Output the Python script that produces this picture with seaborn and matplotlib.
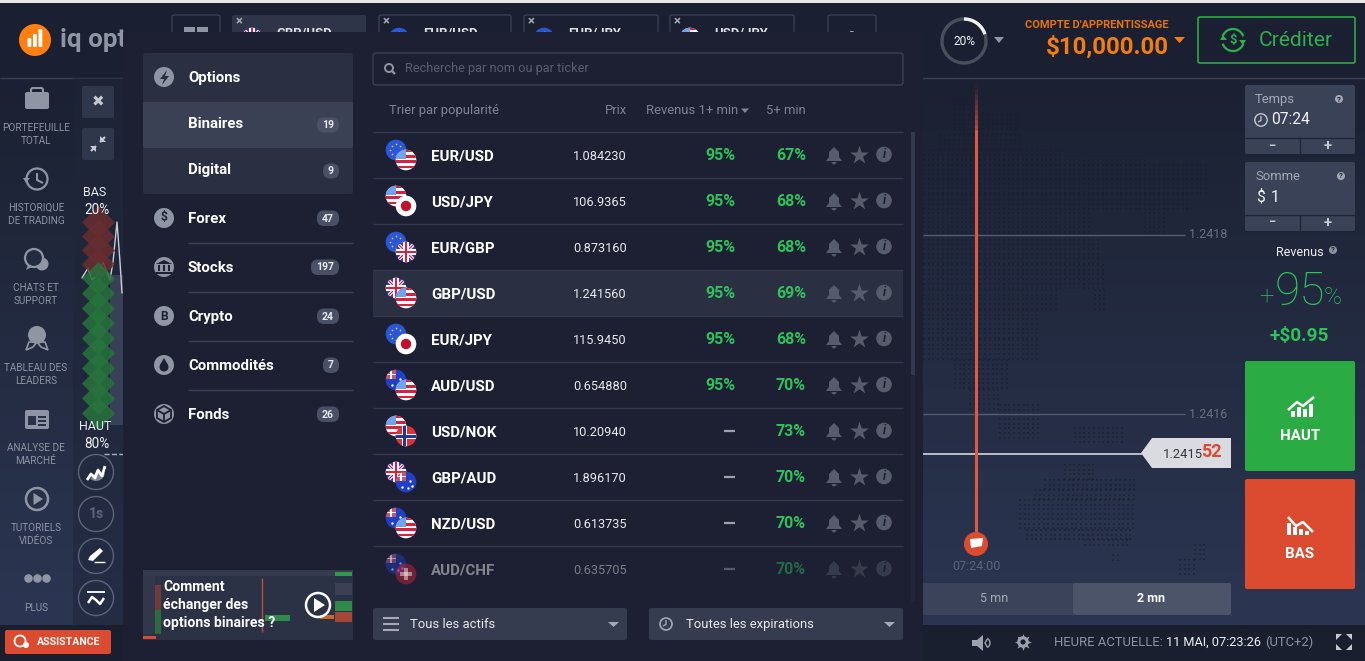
import numpy as np
import pandas as pd
import seaborn as sns
import matplotlib.pyplot as plt
from matplotlib.patches import Circle, FancyBboxPatch, Polygon, Rectangle, Wedge

# asset rows of the table
pairs = ['EUR/USD', 'USD/JPY', 'EUR/GBP', 'GBP/USD', 'EUR/JPY', 'AUD/USD', 'USD/NOK', 'GBP/AUD', 'NZD/USD', 'AUD/CHF']
prices = ['1.084230', '106.9365', '0.873160', '1.241560', '115.9450', '0.654880', '10.20940', '1.896170', '0.613735', '0.635705']
revenue_1min = ['95%', '95%', '95%', '95%', '95%', '95%', '—', '—', '—', '—']
revenue_5min = ['67%', '68%', '68%', '69%', '68%', '70%', '73%', '70%', '70%', '70%']

# left menu
menu_names = ['Forex', 'Stocks', 'Crypto', 'Commodités', 'Fonds']
menu_counts = ['47', '197', '24', '7', '26']
option_names = ['Binaires', 'Digital']
option_counts = ['19', '9']
side_labels = [['PORTEFEUILLE', 'TOTAL'], ['HISTORIQUE', 'DE TRADING'], ['CHATS ET', 'SUPPORT'],
               ['TABLEAU DES', 'LEADERS'], ['ANALYSE DE', 'MARCHÉ'], ['TUTORIELS', 'VIDÉOS'], ['PLUS']]
tab_names = ['GBP/USD', 'EUR/USD', 'EUR/JPY', 'USD/JPY']
tab_flags = ['GBP', 'EUR', 'EUR', 'USD']

# sentiment strip and small price line
down_share = [222, 236, 250, 264]
up_share = [278, 293, 308, 323, 338, 353, 368, 383, 398, 413]
spark_x = [82, 88, 92, 98, 103, 106, 110, 113, 117, 120, 122]
spark_y = [278, 268, 280, 274, 262, 270, 280, 262, 222, 262, 293]

# dotted world map, rough blocks: y0, y1, x0, x1
map_blocks = [(100, 112, 955, 970), (115, 135, 955, 1020), (135, 150, 940, 1020), (150, 160, 924, 1065),
              (160, 165, 924, 1145), (165, 195, 924, 1210), (195, 213, 924, 1190), (213, 235, 924, 1090),
              (213, 235, 1145, 1165), (235, 265, 924, 1100), (265, 290, 924, 1105), (290, 310, 924, 1060),
              (290, 310, 1095, 1105), (310, 340, 924, 1040), (340, 360, 924, 1037), (360, 390, 955, 1007),
              (390, 410, 970, 1000), (405, 440, 1000, 1040), (428, 446, 1075, 1125), (465, 480, 1065, 1095),
              (480, 490, 1045, 1135), (490, 500, 1035, 1135), (500, 530, 1020, 1135), (530, 540, 1027, 1135),
              (540, 548, 1085, 1130), (555, 562, 1113, 1120), (545, 560, 1195, 1208), (560, 575, 1180, 1195)]

sns.set_theme(style='white')
plt.rcParams['font.family'] = ['Roboto', 'DejaVu Sans']

fig = plt.figure(figsize=(13.65, 6.61), dpi=100)
ax = fig.add_axes([0, 0, 1, 1])
ax.axis('off')


def box(x, y, w, h, color, z=1, r=2, alpha=1, edge='none', lw=0):
    ax.add_patch(FancyBboxPatch((x + r, y + r), w - 2 * r, h - 2 * r, boxstyle='round,pad=%s' % r, fc=color,
                                ec=edge, lw=lw, alpha=alpha, zorder=z))


def rect(x, y, w, h, color, z=1, alpha=1):
    ax.add_patch(Rectangle((x, y), w, h, fc=color, ec='none', alpha=alpha, zorder=z))


def txt(x, y, s, px=12, color='white', ha='left', weight='normal', z=10, alpha=1, style='normal'):
    ax.text(x, y + 2, s, fontsize=px * 0.72, color=color, ha=ha, va='center', fontweight=weight, zorder=z,
            alpha=alpha, fontstyle=style)


def line(xs, ys, color, lw=1, z=2, alpha=1, ls='-'):
    ax.plot(xs, ys, color=color, lw=lw, zorder=z, alpha=alpha, ls=ls, solid_capstyle='butt')


def tri(points, color, z=3, alpha=1):
    ax.add_patch(Polygon(points, fc=color, ec='none', zorder=z, alpha=alpha))


def flag(cx, cy, kind, z, alpha=1):
    clip = Circle((cx, cy), 10.3, transform=ax.transData)

    def add(x, y, w, h, c):
        p = Rectangle((cx + x, cy + y), w, h, fc=c, ec='none', zorder=z, alpha=alpha)
        ax.add_patch(p)
        p.set_clip_path(clip)

    def diag(c, lw):
        for sign in (1, -1):
            d, = ax.plot([cx - 11, cx + 11], [cy - 11 * sign, cy + 11 * sign], color=c, lw=lw, zorder=z, alpha=alpha)
            d.set_clip_path(clip)

    if kind == 'EUR':
        add(-11, -11, 22, 22, '#2a56d8')
        ax.scatter(cx + 6 * np.cos(np.arange(8) * np.pi / 4), cy + 6 * np.sin(np.arange(8) * np.pi / 4),
                   s=1.5, color='#e8c84a', zorder=z, alpha=alpha, linewidths=0)
    elif kind == 'USD':
        add(-11, -11, 22, 22, 'white')
        for k in range(4):
            add(-11, -10.5 + k * 5.4, 22, 2.7, '#d8213f')
        add(-11, -11, 11, 10, '#6ea4ee')
    elif kind == 'JPY':
        add(-11, -11, 22, 22, 'white')
        ax.add_patch(Circle((cx, cy), 5.2, fc='#c2102c', ec='none', zorder=z, alpha=alpha))
    elif kind == 'GBP':
        add(-11, -11, 22, 22, '#2b3fb0')
        diag('white', 2.4)
        diag('#d8213f', 0.9)
        add(-11, -2.6, 22, 5.2, 'white')
        add(-2.6, -11, 5.2, 22, 'white')
        add(-11, -1.3, 22, 2.6, '#d8213f')
        add(-1.3, -11, 2.6, 22, '#d8213f')
    elif kind == 'AUD' or kind == 'NZD':
        add(-11, -11, 22, 22, '#2040c8')
        add(-11, -11, 11, 10, '#c9566b')
        add(-11, -6.5, 11, 1.6, 'white')
        add(-6, -11, 1.6, 10, 'white')
        ax.scatter([cx + 4, cx + 6, cx + 2, cx - 4], [cy - 1, cy + 4, cy + 6, cy + 5], s=3, color='white',
                   zorder=z, alpha=alpha, linewidths=0)
    elif kind == 'NOK':
        add(-11, -11, 22, 22, '#e0323c')
        add(-4, -11, 5, 22, 'white')
        add(-11, -2.5, 22, 5, 'white')
        add(-3, -11, 3, 22, '#1f3a8c')
        add(-11, -1.5, 22, 3, '#1f3a8c')
    elif kind == 'CHF':
        add(-11, -11, 22, 22, '#d8213f')
        add(-6, -1.8, 12, 3.6, 'white')
        add(-1.8, -6, 3.6, 12, 'white')


# background gradient
grad = np.linspace(0, 1, 300)[:, None, None]
top = np.array([0x1b, 0x21, 0x32]) / 255
bot = np.array([0x2c, 0x36, 0x52]) / 255
ax.imshow(top + (bot - top) * grad, extent=[0, 1365, 625, 78], aspect='auto', zorder=0)

# header and footer
rect(0, 0, 1365, 3, '#e8e8e8', 0.5)
rect(0, 3, 1365, 75, '#1a2031', 0.5)
line([0, 1365], [77.5, 77.5], '#3a4152', 1, 1)
rect(0, 625, 1365, 36, '#191f2e', 0.5)
line([440, 490], [660, 660], '#555b69', 1, 1)

# logo
ax.add_patch(Circle((35, 40), 16, fc='#ff7f11', ec='none', zorder=2))
for bx, bh in zip([27.5, 33, 38.5], [9, 13, 18]):
    box(bx, 47 - bh, 3.8, bh, 'white', 3, r=1)
txt(60, 38, 'iq opt', 26, '#8f95a3', weight='bold', z=2)

# tabs behind the panel
box(172, 15, 48, 34, '#1a2031', 1, edge='#3a4152', lw=1)
rect(184, 27, 11, 8, '#8f95a3', 2)
rect(197, 27, 11, 8, '#8f95a3', 2)
for k, (tx, tw) in enumerate(zip([232, 379, 524, 670], [134, 132, 134, 124])):
    if k == 0:
        box(tx, 15, tw, 34, '#2e3548', 1)
    else:
        box(tx, 15, tw, 34, '#1a2031', 1, edge='#3a4152', lw=1)
    txt(tx + 7, 20, '×', 13, '#a8adb8', ha='center', weight='bold', z=2)
    flag(tx + 20, 38, tab_flags[k], 2)
    txt(tx + 44, 31, tab_names[k], 13, '#dfe1e6', weight='bold', z=2)
box(828, 15, 48, 34, '#1a2031', 1, edge='#3a4152', lw=1)
txt(852, 31, '-', 14, '#a8adb8', ha='center', z=2)

# left sidebar
rect(73, 78, 50, 547, '#1f2639', 1, alpha=0.55)
for k, label in enumerate(side_labels):
    base = [126, 206, 286, 366, 446, 526, 606][k]
    for j, part in enumerate(label):
        txt(36, base + j * 13, part, 10, '#8d93a2', ha='center')

grey = '#8f95a3'
side_bg = '#232b41'
# briefcase
box(25, 92, 24, 17, grey, 3, r=2)
box(31, 88, 12, 8, 'none', 3, r=2, edge=grey, lw=1.5)
# clock
ax.add_patch(Circle((37, 179), 10.5, fc='none', ec=grey, lw=1.6, zorder=3))
line([37, 37, 43], [173, 180, 183], grey, 1.5, 3)
tri([[23, 178], [30, 178], [26, 183]], grey)
# chat
ax.add_patch(Circle((42, 264), 6.5, fc=grey, ec='none', zorder=2))
ax.add_patch(Circle((34, 258), 9, fc=side_bg, ec=grey, lw=1.6, zorder=3))
tri([[28, 265], [32, 267], [26, 270]], grey, 4)
# medal
ax.add_patch(Circle((37, 335), 9, fc=grey, ec='none', zorder=3))
ax.add_patch(Polygon([[29, 342], [26, 350], [33, 347], [37, 342]], fc='none', ec=grey, lw=1.2, zorder=3))
ax.add_patch(Polygon([[45, 342], [48, 350], [41, 347], [37, 342]], fc='none', ec=grey, lw=1.2, zorder=3))
# newspaper
box(25, 410, 24, 19, grey, 3, r=2)
rect(28, 416, 8, 9, '#2a3249', 4)
rect(38, 416, 8, 2, '#2a3249', 4)
rect(38, 420, 8, 2, '#2a3249', 4)
rect(38, 424, 8, 2, '#2a3249', 4)
# play
ax.add_patch(Circle((37, 499), 11, fc='none', ec=grey, lw=1.8, zorder=3))
tri([[33.5, 493], [33.5, 505], [43, 499]], grey)
ax.scatter([28, 37, 46], [578, 578, 578], s=38, color=grey, linewidths=0, zorder=3)

# assistance
box(5, 630, 106, 24, '#dc4a2f', 3, r=2)
ax.add_patch(Circle((20, 641), 5.5, fc='none', ec='white', lw=1.3, zorder=4))
ax.add_patch(Circle((26, 645), 3, fc='white', ec='none', zorder=4))
txt(37, 640, 'ASSISTANCE', 10.5, 'white', weight='bold')

# close / shrink squares
box(82, 86, 32, 32, '#2f374b', 2)
txt(98, 100, '✖', 15, '#c6c9d0', ha='center', z=3)
box(82, 128, 32, 32, '#2f374b', 2)
line([91, 96], [151, 146], '#c6c9d0', 1.6, 3)
line([100, 105], [142, 137], '#c6c9d0', 1.6, 3)
tri([[96, 146], [96, 152], [90, 146]], '#c6c9d0')
tri([[100, 142], [100, 136], [106, 142]], '#c6c9d0')

# sentiment strip
rect(110, 275, 13, 150, '#3b435a', 1.2, alpha=0.9)
sns.lineplot(x=spark_x, y=spark_y, color='#c9ccd3', lw=1, sort=False, ax=ax, zorder=2)
for ys, col in ((down_share, '#672e2f'), (up_share, '#27733c')):
    sns.scatterplot(x=[97.5] * len(ys), y=ys, marker='D', s=285, color=col, alpha=0.85, linewidth=0, ax=ax, zorder=3)
txt(95, 191, 'BAS', 12.5, '#e8e9ec', ha='center')
txt(97, 208, '20%', 13.5, '#f2f3f5', ha='center', z=11)
txt(95, 425, 'HAUT', 12.5, '#e8e9ec', ha='center', z=11)
txt(97, 442, '80%', 13.5, '#f2f3f5', ha='center', z=11)
line([104, 123], [453.5, 453.5], '#a8adb8', 1, 2, ls='--')

for cy in [472, 514, 556, 598]:
    ax.add_patch(Circle((96, cy), 17.5, fc='none', ec='#5b6478', lw=1, zorder=3))
line([87, 91, 95, 98, 102, 105], [480, 474, 478, 470, 476, 466], 'white', 2, 4)
ax.add_patch(Wedge((96, 472), 9, 10, 130, fc='#7e8494', ec='none', zorder=3))
txt(96, 512, '1s', 14, '#5b6478', ha='center', weight='bold')
tri([[88, 560], [90, 556], [100, 548], [103, 551], [93, 561]], 'white', 4)
line([94, 105], [561.5, 561.5], 'white', 1, 4)
line([87, 105], [592, 592], 'white', 1.3, 4)
line([88, 92, 96, 100, 104], [603, 597, 600, 604, 598], 'white', 1.8, 4)

# chart area: dotted map
map_x, map_y = [], []
for y0, y1, x0, x1 in map_blocks:
    for yy in np.arange(y0, y1, 4.7):
        for xx in np.arange(x0, x1, 4.7):
            map_x.append(xx)
            map_y.append(yy)
map_df = pd.DataFrame({'x': map_x, 'y': map_y})
sns.scatterplot(data=map_df, x='x', y='y', marker='s', s=4, color='#191e2d', alpha=0.5, linewidth=0, ax=ax, zorder=1)

line([923, 1185], [234.5, 234.5], '#565d70', 1, 2)
txt(1189, 233, '1.2418', 12.5, '#686f80')
line([923, 1185], [413.5, 413.5], '#565d70', 1, 2)
txt(1189, 412, '1.2416', 12.5, '#686f80')
line([923, 1142], [453.5, 453.5], '#d6d8dd', 1.2, 3)
tri([[1141, 453], [1152, 438], [1231, 438], [1231, 468], [1152, 468]], '#d9dbe0')
txt(1163, 452, '1.2415', 13, '#33363e', z=4)
txt(1201, 450, '52', 18, '#dc4a2f', weight='bold', z=4)

# expiry line, fading to the top
for y0, a in zip(np.arange(84, 130, 5), np.linspace(0.05, 0.85, 10)):
    line([976, 976], [y0, y0 + 5], '#e0583c', 2.2, 3, alpha=a)
line([976, 976], [130, 535], '#dc5a40', 2.2, 3)
ax.add_patch(Circle((976, 544), 12, fc='#dc4a2f', ec='none', zorder=4))
tri([[970, 539], [983, 538], [982, 546], [971, 548]], 'white', 5)
txt(976, 564, '07:24:00', 12.5, '#5d6476', ha='center')

rect(923, 583, 150, 32, '#3b435a', 2)
box(1073, 583, 158, 32, '#4b5468', 2)
txt(994, 596, '5 mn', 12.5, '#a4a9b5', ha='center', z=3)
txt(1151, 596, '2 mn', 12.5, 'white', ha='center', weight='bold', z=3)

# right column
box(1245, 85, 110, 69, '#3a4257', 2)
line([1245, 1355], [137.5, 137.5], '#1f2536', 1, 3)
line([1299.5, 1299.5], [138, 154], '#1f2536', 1, 3)
txt(1255, 97, 'Temps', 13, '#a4a9b5')
ax.add_patch(Circle((1339, 99), 4, fc='#a4a9b5', ec='none', zorder=10))
txt(1339, 97, '?', 8, '#1f2536', ha='center', weight='bold', z=11)
ax.add_patch(Circle((1261, 120), 6.2, fc='none', ec='#c6c9d0', lw=1, zorder=10))
line([1261, 1261, 1258], [116, 120.5, 122], '#c6c9d0', 0.9, 10)
txt(1271, 118, '07:24', 15.5, '#f2f3f5')
txt(1272, 144, '−', 13, '#c6c9d0', ha='center', weight='bold')
txt(1328, 144, '+', 15, '#c6c9d0', ha='center', weight='bold')

box(1245, 162, 110, 69, '#3a4257', 2)
line([1245, 1355], [214.5, 214.5], '#1f2536', 1, 3)
line([1299.5, 1299.5], [215, 231], '#1f2536', 1, 3)
txt(1255, 174, 'Somme', 13, '#a4a9b5')
ax.add_patch(Circle((1341, 176), 4, fc='#a4a9b5', ec='none', zorder=10))
txt(1341, 174, '?', 8, '#1f2536', ha='center', weight='bold', z=11)
txt(1256, 195, '$', 15.5, '#f2f3f5')
txt(1271, 195, '1', 15.5, '#f2f3f5')
txt(1272, 221, '−', 13, '#c6c9d0', ha='center', weight='bold')
txt(1328, 221, '+', 15, '#c6c9d0', ha='center', weight='bold')

txt(1300, 250, 'Revenus', 12.5, '#eef0f3', ha='center')
ax.add_patch(Circle((1333, 250), 4, fc='#8f95a3', ec='none', zorder=10))
txt(1333, 248, '?', 8, '#1f2536', ha='center', weight='bold', z=11)
txt(1266, 295, '+', 26, '#2fc25a', ha='center', weight='light')
txt(1275, 290, '95', 46, '#2fc25a', weight='light')
txt(1324, 295, '%', 24, '#2fc25a', weight='light')
txt(1299, 334, '+$0.95', 19, '#2fc25a', ha='center', weight='bold')

box(1245, 361, 110, 110, '#2bab44', 2)
box(1245, 479, 110, 110, '#dc4a2f', 2)
txt(1300, 434, 'HAUT', 15, 'white', ha='center', weight='bold')
txt(1300, 552, 'BAS', 15, 'white', ha='center', weight='bold')
for bx, bh in zip([1291, 1297, 1303, 1309], [6, 10, 8, 13]):
    rect(bx, 417 - bh, 4, bh, 'white', 3)
line([1288, 1297, 1303, 1314], [410, 402, 406, 397], 'white', 1.8, 3)
for bx, bh in zip([1287, 1293, 1299, 1305], [12, 8, 6, 4]):
    rect(bx, 535 - bh, 4, bh, 'white', 3)
line([1288, 1296, 1303, 1313], [517, 526, 522, 532], 'white', 1.8, 3)

# top right
ang = np.radians(np.linspace(0, 360, 100))
line(964 + 22 * np.sin(ang), 41 - 22 * np.cos(ang), '#4a4f5c', 2.4, 2)
ang = np.radians(np.linspace(0, 72, 30))
line(964 + 22 * np.sin(ang), 41 - 22 * np.cos(ang), '#f0f0f0', 2.4, 3)
txt(964, 39.5, '20%', 12, '#eef0f3', ha='center')
tri([[994, 37], [1004, 37], [999, 43]], '#8f95a3')
txt(1097, 23, "COMPTE D'APPRENTISSAGE", 11, '#e8730c', ha='center', weight='bold')
txt(1107, 45, '$10,000.00', 24, '#f57c0e', ha='center', weight='bold')
tri([[1174, 37], [1185, 37], [1179.5, 43]], '#f57c0e')
box(1198, 17, 157, 46, 'none', 3, edge='#2bab44', lw=1.2)
ang = np.radians(np.linspace(20, 160, 30))
line(1233 + 11 * np.cos(ang), 40 + 11 * np.sin(ang), '#2fb04c', 1.6, 3)
line(1233 - 11 * np.cos(ang), 40 - 11 * np.sin(ang), '#2fb04c', 1.6, 3)
tri([[1220, 40], [1227, 40], [1223, 35]], '#2fb04c')
tri([[1239, 40], [1246, 40], [1243, 45]], '#2fb04c')
txt(1233, 38.5, '$', 13, '#2fb04c', ha='center', weight='bold')
txt(1259, 38, 'Créditer', 21, '#2fb04c')

# footer right
tri([[972, 640], [977, 640], [983, 635], [983, 651], [977, 646], [972, 646]], '#9ca1ad')
ax.add_patch(Wedge((985, 643), 5, -60, 60, fc='none', ec='#9ca1ad', lw=1, zorder=3))
ax.scatter([1023], [642], s=150, marker=(8, 1, 0), color='#9ca1ad', linewidths=0, zorder=3)
ax.add_patch(Circle((1023, 642), 5.8, fc='#9ca1ad', ec='none', zorder=3))
ax.add_patch(Circle((1023, 642), 2.6, fc='#191f2e', ec='none', zorder=4))
txt(1054, 640, 'HEURE ACTUELLE:', 13, '#8d93a2')
txt(1166, 640, '11 MAI, 07:23:26', 12.8, '#eef0f3')
txt(1265, 640, '(UTC+2)', 13, '#8d93a2')
for sx, sy in ((1336, 634), (1352, 634), (1336, 650), (1352, 650)):
    dx = 6 if sx < 1340 else -6
    dy = 6 if sy < 640 else -6
    tri([[sx, sy], [sx + dx, sy], [sx, sy + dy]], '#c6c9d0')

# overlay panel
rect(123, 32, 800, 629, '#1c2032', 5)
z = 6
box(143, 53, 210, 141, '#2a3042', z, r=3)
box(143, 102, 210, 46, '#3a4154', z, r=2)
ax.add_patch(Circle((164, 77), 10, fc=grey, ec='none', zorder=z + 1))
tri([[167, 70], [160, 79], [164, 79], [162, 85], [169, 76], [165, 76]], '#2a3042', z + 2)
txt(188, 76, 'Options', 15, 'white', weight='bold', z=z + 2)
for k, (name, cnt) in enumerate(zip(option_names, option_counts)):
    yy = 124 + 46 * k
    txt(188, yy - 2, name, 15, 'white', weight='bold', z=z + 2)
    w = 22 if len(cnt) > 1 else 16
    box(339 - w, yy - 7.5 + 1, w, 15, '#4a5166', z + 1, r=7)
    txt(339 - w / 2, yy - 1, cnt, 10.5, '#e8e9ec', ha='center', weight='bold', z=z + 3)

glyphs = ['$', '', 'B', '', '']
for k, (name, cnt) in enumerate(zip(menu_names, menu_counts)):
    yy = 219 + 49 * k
    ax.add_patch(Circle((164, yy - 1), 10, fc=grey, ec='none', zorder=z + 1))
    txt(164, yy - 3, glyphs[k], 12, '#1c2032', ha='center', weight='bold', z=z + 3)
    txt(188, yy - 2, name, 15, 'white', weight='bold', z=z + 2)
    w = 28 if len(cnt) == 3 else (22 if len(cnt) == 2 else 16)
    box(339 - w, yy - 8.5, w, 15.5, '#4a5166', z + 1, r=7)
    txt(339 - w / 2, yy - 2.5, cnt, 10.5, '#e8e9ec', ha='center', weight='bold', z=z + 3)
    if k < 4:
        line([188, 353], [243 + 49 * k - 0.5, 243 + 49 * k - 0.5], '#3a4154', 1, z)
# stocks, commodities and funds glyphs
tri([[156, 264], [164, 260], [172, 264]], '#1c2032', z + 2)
for cx in [158, 163, 168]:
    rect(cx, 265, 2.2, 6, '#1c2032', z + 2)
rect(156, 272, 16, 2, '#1c2032', z + 2)
ax.add_patch(Circle((164, 367), 4.5, fc='#1c2032', ec='none', zorder=z + 2))
tri([[160, 365], [164, 358], [168, 365]], '#1c2032', z + 2)
ax.add_patch(Polygon([[157, 410], [164, 406], [171, 410], [171, 418], [164, 422], [157, 418]], fc='none', ec='#1c2032', lw=1.3, zorder=z + 2))
line([157, 164, 171], [410, 414, 410], '#1c2032', 1.3, z + 2)
line([164, 164], [414, 422], '#1c2032', 1.3, z + 2)

# video thumbnail
rect(143, 570, 210, 70, '#2b3245', z)
rect(143, 570, 210, 6, '#343b4f', z)
rect(143, 576, 12, 58, '#31384c', z)
rect(335, 572, 17, 4, '#2e9a49', z + 1)
rect(335, 583, 17, 12, '#3a4154', z + 1)
rect(335, 601, 17, 10, '#2e8a49', z + 1)
rect(335, 612, 17, 10, '#a64636', z + 1)
rect(155, 585, 6, 25, '#6e3a3a', z + 1)
rect(155, 610, 6, 24, '#2d6a42', z + 1)
rect(265, 615, 25, 6, '#2e8a49', z + 1)
rect(320, 615, 14, 4, '#c8682a', z + 1)
line([262, 262], [578, 632], '#b8503c', 1, z + 1)
rect(143, 636, 13, 3, '#dc4a2f', z + 1)
for yy, part in zip([585, 603, 621], ['Comment', 'échanger des', 'options binaires ?']):
    txt(163, yy, part, 14, 'white', weight='bold', z=z + 3)
ax.add_patch(Circle((318, 605), 12, fc='none', ec='white', lw=1.8, zorder=z + 3))
tri([[314, 598], [314, 612], [325, 605]], 'white', z + 3)

# search
box(373, 53, 530, 32, '#1c2032', z, r=3, edge='#3a4154', lw=1)
ax.add_patch(Circle((389, 68), 4, fc='none', ec='#8f95a3', lw=1.4, zorder=z + 1))
line([392, 395], [71, 74], '#8f95a3', 1.6, z + 1)
txt(405, 66.5, 'Recherche par nom ou par ticker', 12.8, '#585e6f', z=z + 1)

# table head
txt(389, 108.5, 'Trier par popularité', 13, '#7e8494', z=z + 1)
txt(627, 108.5, 'Prix', 13, '#7e8494', ha='right', z=z + 1)
txt(646, 108.5, 'Revenus 1+ min', 13, '#7e8494', z=z + 1)
tri([[741, 108.5], [749, 108.5], [745, 113]], '#7e8494', z + 1)
txt(806, 108.5, '5+ min', 13, '#7e8494', ha='right', z=z + 1)

# table rows
rect(373, 270, 530, 46, '#2a3042', z)
rect(910.5, 132, 4, 470, '#212638', z)
rect(910.5, 132, 4, 243, '#333a4d', z + 1)
for k, name in enumerate(pairs):
    yy = 155 + 46 * k
    fade = 0.45 if k == 9 else 1
    line([373, 903], [yy - 23.5, yy - 23.5], '#343a4c', 1, z + 1)
    left, right = name.split('/')
    flag(396, yy - 5, left, z + 1, alpha=fade)
    flag(406, yy + 5, right, z + 2, alpha=fade)
    txt(431, yy - 0.5, name, 15, 'white', weight='bold', z=z + 3, alpha=fade)
    txt(627, yy - 0.5, prices[k], 12.8, '#e8e9ec', ha='right', z=z + 3, alpha=fade)
    if revenue_1min[k] == '—':
        line([724, 735], [yy - 0.5, yy - 0.5], '#9ca1ad', 1.6, z + 3, alpha=fade)
    else:
        txt(736, yy - 1.5, revenue_1min[k], 16, '#2fc25a', ha='right', weight='bold', z=z + 3)
    txt(806, yy - 1.5, revenue_5min[k], 16, '#2fc25a', ha='right', weight='bold', z=z + 3, alpha=fade)
    # bell, star, info
    icon = '#565c6c'
    tri([[826, yy + 6], [829, yy + 2], [829, yy - 3], [834, yy - 8], [839, yy - 3], [839, yy + 2], [842, yy + 6]],
        icon, z + 3, fade)
    ax.add_patch(Wedge((834, yy + 7), 2.4, 0, 180, fc=icon, ec='none', zorder=z + 3, alpha=fade))
    ax.scatter([858.5], [yy - 0.5], s=200, marker='*', color=icon, linewidths=0, zorder=z + 3, alpha=fade)
    ax.add_patch(Circle((884, yy - 0.5), 7.8, fc=icon, ec='none', zorder=z + 3, alpha=fade))
    txt(884, yy - 2.5, 'i', 12, '#1c2032', ha='center', weight='bold', z=z + 4, style='italic')

# filters
box(373, 608, 254, 32, '#353c50', z, r=2)
box(649, 608, 254, 32, '#353c50', z, r=2)
for yy in [618, 624, 630]:
    line([383, 399], [yy, yy], '#a4a9b5', 1.5, z + 1)
txt(410, 622.5, 'Tous les actifs', 13, '#e8e9ec', z=z + 1)
tri([[608, 622], [619, 622], [613.5, 627]], '#a4a9b5', z + 1)
ax.add_patch(Circle((666, 624), 6, fc='none', ec='#a4a9b5', lw=1.2, zorder=z + 1))
line([666, 666, 663], [620, 624.5, 626], '#a4a9b5', 1, z + 1)
txt(686, 622.5, 'Toutes les expirations', 13, '#e8e9ec', z=z + 1)
tri([[884, 622], [895, 622], [889.5, 627]], '#a4a9b5', z + 1)

ax.set_xlim(0, 1365)
ax.set_ylim(661, 0)
fig.savefig('out.png', dpi=100)
